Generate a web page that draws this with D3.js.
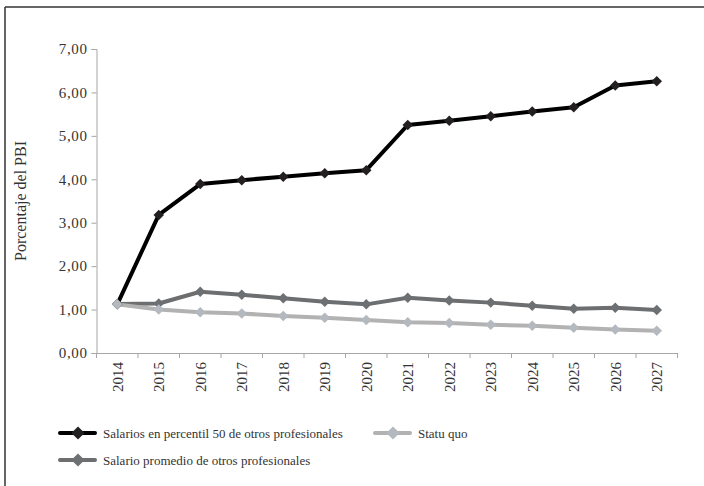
<!DOCTYPE html>
<html>
<head>
<meta charset="utf-8">
<script src="https://cdn.jsdelivr.net/npm/d3@7"></script>
<style>
  html, body { margin: 0; padding: 0; background: #fff; }
  svg text { font-family: 'Liberation Serif', 'Times New Roman', Times, serif !important; }
</style>
</head>
<body>
<svg id="chart" width="704" height="486"></svg>
<script>
const years = ["2014","2015","2016","2017","2018","2019","2020","2021","2022","2023","2024","2025","2026","2027"];
const percentil50 = [1.12, 3.18, 3.89, 3.98, 4.06, 4.14, 4.21, 5.25, 5.35, 5.45, 5.56, 5.66, 6.16, 6.26];
const promedio = [1.13, 1.14, 1.41, 1.34, 1.26, 1.18, 1.12, 1.27, 1.21, 1.16, 1.09, 1.02, 1.04, 0.99];
const statuQuo = [1.12, 1.00, 0.94, 0.91, 0.85, 0.81, 0.76, 0.71, 0.69, 0.65, 0.63, 0.58, 0.54, 0.51];
const yTicks = [0, 1, 2, 3, 4, 5, 6, 7];
const seriesNames = ["Salarios en percentil 50 de otros profesionales", "Statu quo", "Salario promedio de otros profesionales"];

const series = [
  { name: seriesNames[0], values: percentil50, line: "#000000", marker: "#231f20" },
  { name: seriesNames[2], values: promedio, line: "#6d6e70", marker: "#6d7073" },
  { name: seriesNames[1], values: statuQuo, line: "#b2b2b2", marker: "#b3b9bf" }
];

const svg = d3.select("#chart");

// frame (top + left)
svg.append("line").attr("x1", 5).attr("x2", 704).attr("y1", 7).attr("y2", 7)
  .attr("stroke", "#333").attr("stroke-width", 1.5);
svg.append("line").attr("x1", 5).attr("x2", 5).attr("y1", 7).attr("y2", 486)
  .attr("stroke", "#333").attr("stroke-width", 1.5);

const x = d3.scaleBand().domain(years).range([96.5, 677.5]);
const y = d3.scaleLinear().domain([0, 7]).range([353, 49]);
const cx = d => x(d) + x.bandwidth() / 2;

const fmt = d => d3.format(".2f")(d).replace(".", ",");

// Y axis
const yAxis = svg.append("g").attr("transform", "translate(96.5,0)")
  .call(d3.axisLeft(y).tickValues(yTicks).tickSize(5).tickFormat(fmt));
yAxis.attr("font-family", null).attr("font-size", null);
yAxis.select(".domain").attr("stroke", "#a6a6a6");
yAxis.selectAll(".tick line").attr("stroke", "#a6a6a6");
yAxis.selectAll(".tick text").attr("x", -9).attr("fill", "#333")
  .style("font-size", "15px").style("letter-spacing", "0.6px");

// X axis
const xAxis = svg.append("g").attr("transform", "translate(0,353)")
  .call(d3.axisBottom(x).tickSize(0).tickSizeOuter(0));
xAxis.attr("font-family", null).attr("font-size", null);
xAxis.select(".domain").attr("stroke", "#a6a6a6");
const bounds = years.map(d => x(d)).concat([x(years[years.length - 1]) + x.bandwidth()]);
xAxis.selectAll(".bnd").data(bounds).enter().append("line")
  .attr("x1", d => d).attr("x2", d => d).attr("y1", 0).attr("y2", 5)
  .attr("stroke", "#a6a6a6");
xAxis.selectAll(".tick text")
  .attr("transform", "rotate(-90)")
  .attr("x", -9).attr("y", 0).attr("dy", "0.35em")
  .attr("text-anchor", "end").attr("fill", "#333")
  .style("font-size", "15px");

// Y title
svg.append("text")
  .attr("transform", "translate(26,201) rotate(-90)")
  .attr("text-anchor", "middle").attr("fill", "#333")
  .style("font-size", "16px")
  .text("Porcentaje del PBI");

const diamond = d3.symbol().type(d3.symbolDiamond2).size(70);
const lineGen = d3.line().x((d, i) => cx(years[i])).y(d => y(d));

series.forEach(s => {
  svg.append("path").datum(s.values).attr("d", lineGen)
    .attr("fill", "none").attr("stroke", s.line).attr("stroke-width", 4)
    .attr("stroke-linejoin", "round");
});
series.forEach(s => {
  svg.append("g").selectAll("path").data(s.values).enter().append("path")
    .attr("d", diamond)
    .attr("transform", (d, i) => `translate(${cx(years[i])},${y(d)})`)
    .attr("fill", s.marker);
});

// Legend
const legendItems = [
  { s: series[0], lx: 60, ly: 433 },
  { s: series[2], lx: 375, ly: 433 },
  { s: series[1], lx: 60, ly: 460 }
];
legendItems.forEach(it => {
  const g = svg.append("g");
  g.append("line").attr("x1", it.lx).attr("x2", it.lx + 35).attr("y1", it.ly).attr("y2", it.ly)
    .attr("stroke", it.s.line).attr("stroke-width", 4).attr("stroke-linecap", "round");
  g.append("path").attr("d", d3.symbol().type(d3.symbolDiamond2).size(110))
    .attr("transform", `translate(${it.lx + 18},${it.ly})`).attr("fill", it.s.marker);
  g.append("text").attr("x", it.lx + 43).attr("y", it.ly).attr("dy", "0.35em")
    .attr("fill", "#333").style("font-size", "13px").text(it.s.name);
});
</script>
</body>
</html>
